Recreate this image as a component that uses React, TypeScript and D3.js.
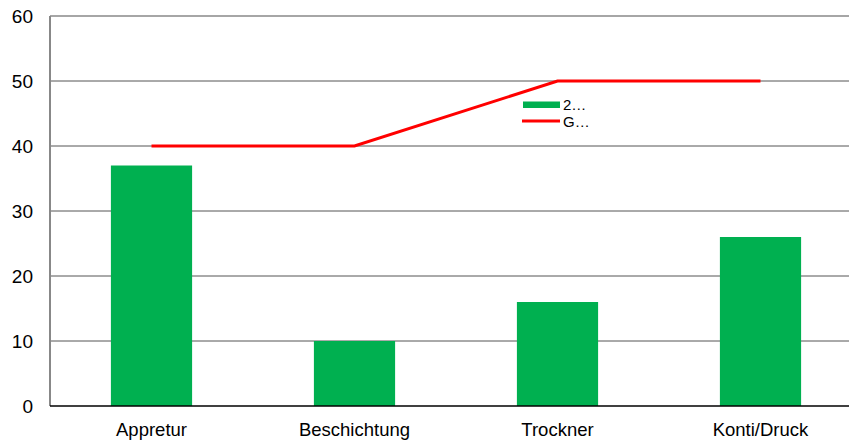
import React from "react";
import * as d3 from "d3";

const categories = ["Appretur", "Beschichtung", "Trockner", "Konti/Druck"];
const barValues = [37, 10, 16, 26];
const lineValues = [40, 40, 50, 50];
const yTicks = [0, 10, 20, 30, 40, 50, 60];
const legendLabels = ["2…", "G…"];

export default function App() {
  const W = 849, H = 440;
  const left = 50, top = 16, bottom = 406;
  const x = d3.scaleBand<string>().domain(categories).range([left, left + 812]).paddingInner(0).paddingOuter(0);
  const y = d3.scaleLinear().domain([0, 60]).range([bottom, top]);
  const bw = x.bandwidth() * 0.4;
  const line = d3.line<number>()
    .x((_, i) => (x(categories[i]) as number) + x.bandwidth() / 2)
    .y((d) => y(d));
  const font = "Liberation Sans, Arial, sans-serif";
  return (
    <svg width={W} height={H} style={{ position: "absolute", left: 0, top: 0 }}>
      <rect width={W} height={H} fill="#fff" />
      {yTicks.filter((t) => t > 0 && t < 60).map((t) => (
        <line key={t} x1={left} x2={W} y1={y(t)} y2={y(t)} stroke="#555" strokeWidth={1} />
      ))}
      <line x1={left} x2={W} y1={y(60)} y2={y(60)} stroke="#888" strokeWidth={1.5} />
      {categories.map((c, i) => (
        <rect key={c} x={(x(c) as number) + (x.bandwidth() - bw) / 2} width={bw}
          y={y(barValues[i])} height={y(0) - y(barValues[i])} fill="#00b050" />
      ))}
      <line x1={left} x2={left} y1={top} y2={bottom} stroke="#888" strokeWidth={2} />
      <line x1={left} x2={W} y1={bottom} y2={bottom} stroke="#000" strokeWidth={1.5} />
      <path d={line(lineValues) || ""} fill="none" stroke="#ff0000" strokeWidth={3} />
      {yTicks.map((t) => (
        <text key={t} x={33} y={y(t)} dy="0.35em" textAnchor="end" fontFamily={font} fontSize={19} fill="#000">{t}</text>
      ))}
      {categories.map((c) => (
        <text key={c} x={(x(c) as number) + x.bandwidth() / 2} y={436} textAnchor="middle" fontFamily={font} fontSize={18.5} fill="#000">{c}</text>
      ))}
      <rect x={523} y={101.5} width={37} height={6.5} fill="#00b050" />
      <text x={563} y={104.5} dy="0.35em" fontFamily={font} fontSize={15} fill="#000">{legendLabels[0]}</text>
      <line x1={522} x2={560} y1={121} y2={121} stroke="#ff0000" strokeWidth={3} />
      <text x={563} y={121.5} dy="0.35em" fontFamily={font} fontSize={15} fill="#000">{legendLabels[1]}</text>
    </svg>
  );
}
